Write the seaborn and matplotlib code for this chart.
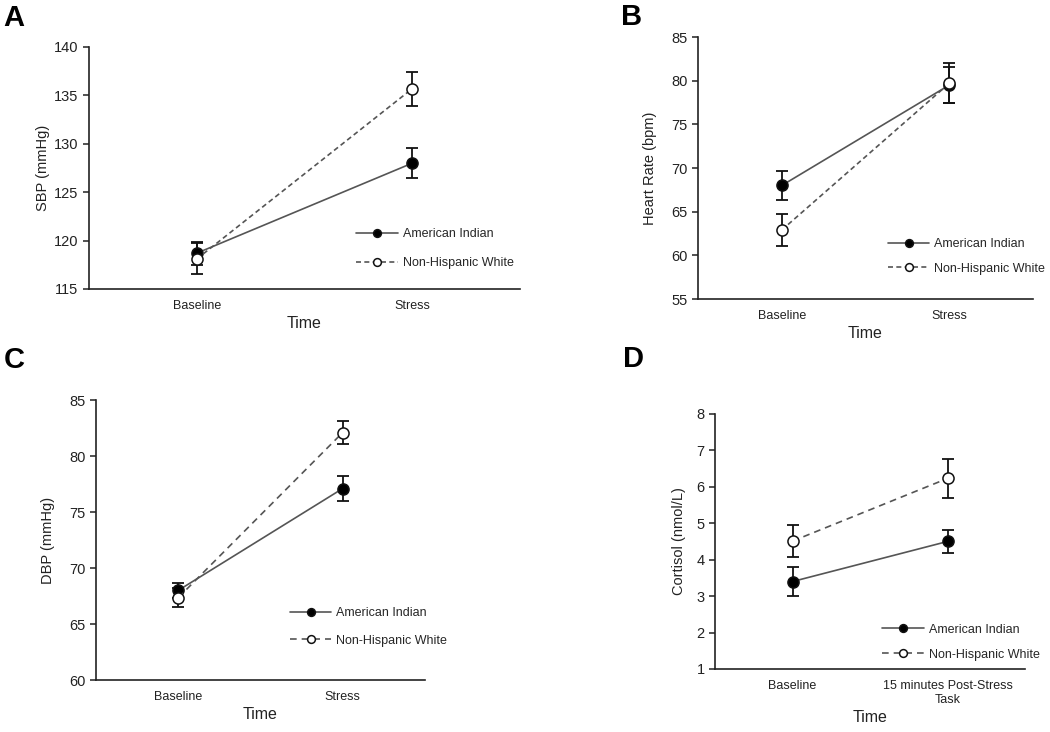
# Four-panel stress reactivity figure (SBP, HR, DBP, cortisol)
import pandas as pd
import matplotlib
matplotlib.use('Agg')
import matplotlib.pyplot as plt
import seaborn as sns

# ---- data (means and standard errors) ----
groups = ['American Indian', 'Non-Hispanic White']
times_ab = ['Baseline', 'Stress']
times_d = ['Baseline', '15 minutes Post-Stress\nTask']

sbp_ai = [118.7, 128.0]
sbp_ai_se = [1.2, 1.55]
sbp_nhw = [118.1, 135.7]
sbp_nhw_se = [1.6, 1.75]

hr_ai = [68.0, 79.5]
hr_ai_se = [1.7, 2.1]
hr_nhw = [62.9, 79.7]
hr_nhw_se = [1.85, 2.3]

dbp_ai = [68.0, 77.1]
dbp_ai_se = [0.7, 1.1]
dbp_nhw = [67.35, 82.1]
dbp_nhw_se = [0.85, 1.0]

cort_ai = [3.40, 4.50]
cort_ai_se = [0.41, 0.32]
cort_nhw = [4.51, 6.23]
cort_nhw_se = [0.44, 0.54]

sns.set_theme(style='ticks')
plt.rcParams['font.family'] = ['Liberation Sans', 'DejaVu Sans']


def make_df(times, ai, ai_se, nhw, nhw_se):
    rows = []
    for g, m, s in [(groups[0], ai, ai_se), (groups[1], nhw, nhw_se)]:
        for t, mv, sv in zip(times, m, s):
            rows.append({'Time': t, 'Group': g, 'Mean': mv, 'SE': sv})
    return pd.DataFrame(rows)


def draw_panel(ax, df, ylabel, ylim, yticks, dash, leg_xy, ypad, lspace):
    styles = {groups[0]: ('-', 'black'), groups[1]: (dash, 'white')}
    for g in groups:
        sub = df[df['Group'] == g]
        ls, mfc = styles[g]
        ax.errorbar(sub['Time'], sub['Mean'], yerr=sub['SE'], fmt='none',
                    ecolor='#111111', elinewidth=1.3, capsize=4.5, capthick=1.3,
                    zorder=2)
        sns.lineplot(data=sub, x='Time', y='Mean', ax=ax, sort=False,
                     color='#555555', linestyle=ls, linewidth=1.2,
                     marker='o', markersize=8, markerfacecolor=mfc,
                     markeredgecolor='#111111', markeredgewidth=1.1,
                     label=g, zorder=3)
    ax.set_xlim(-0.5, 1.5)
    ax.set_ylim(*ylim)
    ax.set_yticks(yticks)
    ax.set_ylabel(ylabel, fontsize=10.5, color='#222222', labelpad=ypad)
    ax.set_xlabel('Time', fontsize=11.5, color='#222222', labelpad=3)
    sns.despine(ax=ax)
    for side in ['left', 'bottom']:
        ax.spines[side].set_linewidth(1.2)
        ax.spines[side].set_color('#222222')
    ax.tick_params(axis='x', length=0, labelsize=9, pad=8, colors='#222222')
    ax.tick_params(axis='y', length=4, width=1.1, labelsize=10.5,
                   colors='#222222')
    ax.legend(loc='upper left', bbox_to_anchor=leg_xy, frameon=False,
              fontsize=9, handlelength=3.3, handletextpad=0.4,
              labelspacing=lspace, borderpad=0, borderaxespad=0,
              markerscale=0.7)


fig = plt.figure(figsize=(10.5, 7.32), dpi=100)
ax_a = fig.add_axes([0.0848, 0.6052, 0.4105, 0.3306])
ax_b = fig.add_axes([0.6648, 0.5915, 0.3190, 0.3579])
ax_c = fig.add_axes([0.0914, 0.0710, 0.3133, 0.3825])
ax_d = fig.add_axes([0.6810, 0.0861, 0.2952, 0.3484])

draw_panel(ax_a, make_df(times_ab, sbp_ai, sbp_ai_se, sbp_nhw, sbp_nhw_se),
           'SBP (mmHg)', (115, 140), range(115, 141, 5), (0, (3, 2)),
           (0.62, 0.25), 3, 1.35)
draw_panel(ax_b, make_df(times_ab, hr_ai, hr_ai_se, hr_nhw, hr_nhw_se),
           'Heart Rate (bpm)', (55, 85), range(55, 86, 5), (0, (3, 2)),
           (0.567, 0.232), 10, 1.0)
draw_panel(ax_c, make_df(times_ab, dbp_ai, dbp_ai_se, dbp_nhw, dbp_nhw_se),
           'DBP (mmHg)', (60, 85), range(60, 86, 5), (0, (4, 3)),
           (0.59, 0.26), 10, 1.25)
draw_panel(ax_d, make_df(times_d, cort_ai, cort_ai_se, cort_nhw, cort_nhw_se),
           'Cortisol (nmol/L)', (1, 8), range(1, 9), (0, (4, 3)),
           (0.54, 0.178), 7.5, 1.05)

# panel letters
for letter, x, y in [('A', 0.003, 0.964), ('B', 0.591, 0.966),
                     ('C', 0.004, 0.497), ('D', 0.593, 0.499)]:
    fig.text(x, y, letter, fontsize=21, fontweight='bold', color='black')

fig.savefig('out.png', dpi=100)
